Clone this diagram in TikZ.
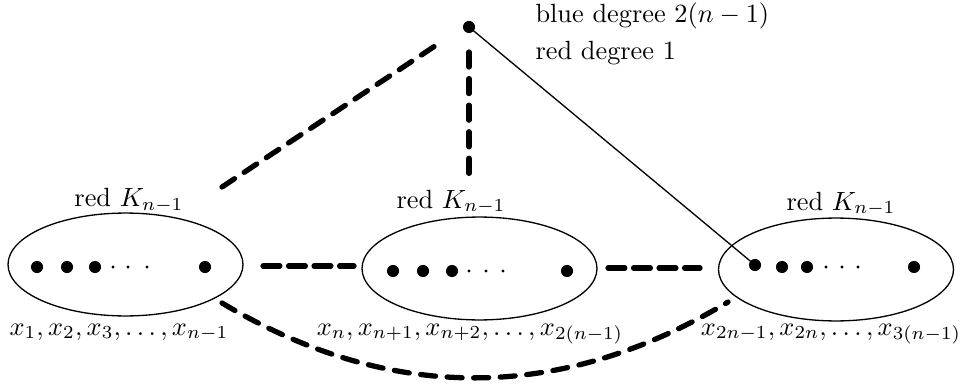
\documentclass[tikz,border=0pt]{standalone}
\usetikzlibrary{shapes.geometric}
\begin{document}
\begin{tikzpicture}[x=0.38pt,y=-0.38pt,
  grp/.style={draw,ellipse,line width=0.5pt,minimum width=89.3pt,minimum height=39.1pt,inner sep=0pt},
  bigdot/.style={circle,fill=black,minimum size=4.6pt,inner sep=0pt},
  smalldot/.style={circle,fill=black,minimum size=1.3pt,inner sep=0pt},
  thickdash/.style={line width=2pt,line cap=round,dash pattern=on 5.7pt off 4.4pt},
  hdash/.style={line width=2pt,line cap=round,dash pattern=on 6.4pt off 3.3pt},
  lbl/.style={anchor=base,inner sep=0pt}]
\useasboundingbox (0,0) rectangle (965,387);
% groups
\node[grp] (e1) at (125.5,264.5) {};
\node[grp] (e2) at (479.5,268.5) {};
\node[grp] (e3) at (836,269.5) {};
% dots group 1
\node[bigdot] (a1) at (37,267) {};
\node[bigdot] (a2) at (67,267) {};
\node[bigdot] (a3) at (95,267) {};
\node[smalldot] (a4) at (113,267) {};
\node[smalldot] (a5) at (128,267) {};
\node[smalldot] (a6) at (147,267) {};
\node[bigdot] (a7) at (205,267) {};
% dots group 2
\node[bigdot] (b1) at (393,271) {};
\node[bigdot] (b2) at (423,271) {};
\node[bigdot] (b3) at (452,271) {};
\node[smalldot] (b4) at (469,271) {};
\node[smalldot] (b5) at (486,271) {};
\node[smalldot] (b6) at (503,271) {};
\node[bigdot] (b7) at (567,271) {};
% dots group 3
\node[bigdot] (c1) at (755,265) {};
\node[bigdot] (c2) at (782,267) {};
\node[bigdot] (c3) at (807,267) {};
\node[smalldot] (c4) at (826,267) {};
\node[smalldot] (c5) at (842,267) {};
\node[smalldot] (c6) at (858,267) {};
\node[bigdot] (c7) at (914,267) {};
% top vertex
\node[bigdot] (v) at (469,27) {};
\draw[line width=0.5pt] (v.center) -- (c1.center);
% dashed connectors
\coordinate (d1s) at (222,187);
\coordinate (d1e) at (435,46);
\coordinate (d2s) at (469,52);
\coordinate (d2e) at (469,175);
\coordinate (h1s) at (263,266);
\coordinate (h1e) at (354,266);
\coordinate (h2s) at (608,268);
\coordinate (h2e) at (700,268);
\coordinate (cs) at (222,303);
\coordinate (ce) at (728,302);
\draw[thickdash] (d1s) -- (d1e);
\draw[thickdash] (d2s) -- (d2e);
\draw[hdash] (h1s) -- (h1e);
\draw[hdash] (h2s) -- (h2e);
\draw[thickdash] (cs) .. controls (390,403) and (559,403) .. (ce);
% labels
\node[lbl] (l1) at (129,207) {red $K_{n-1}$};
\node[lbl] (l2) at (451,208) {red $K_{n-1}$};
\node[lbl] (l3) at (841,210) {red $K_{n-1}$};
\node[lbl] (s1) at (119,335) {$x_1, x_2, x_3, \ldots, x_{n-1}$};
\node[lbl] (s2) at (470,335) {$x_n, x_{n+1}, x_{n+2}, \ldots, x_{2(n-1)}$};
\node[lbl] (s3) at (831,335) {$x_{2n-1}, x_{2n}, \ldots, x_{3(n-1)}$};
\node[anchor=base west,inner sep=0pt] (t1) at (535,23) {blue degree $2(n-1)$};
\node[anchor=base west,inner sep=0pt] (t2) at (535,60) {red degree 1};
\end{tikzpicture}
\end{document}
